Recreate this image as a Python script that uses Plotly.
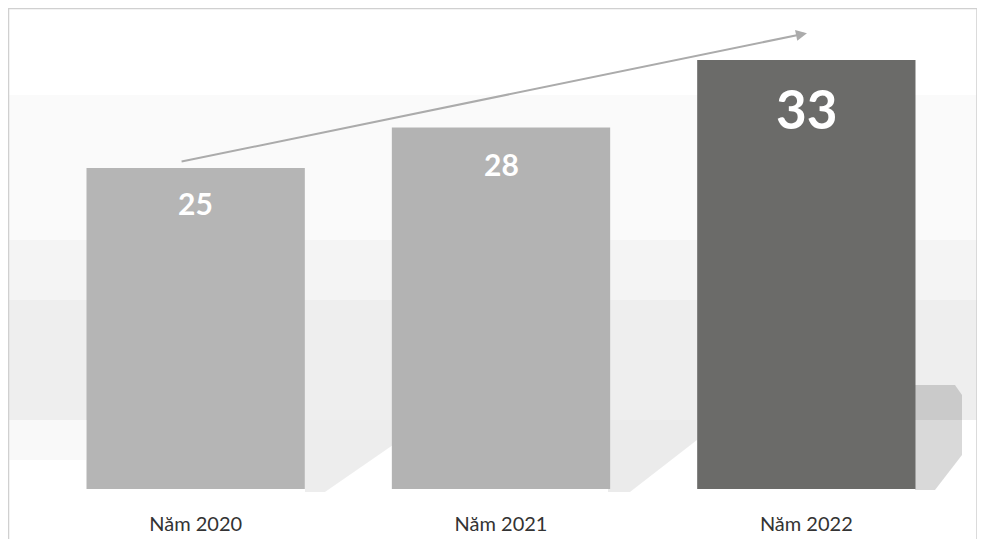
import plotly.graph_objects as go

categories = ["Năm 2020", "Năm 2021", "Năm 2022"]
values = [25, 28, 33]
bar_colors = ["#b5b5b5", "#b3b3b3", "#6b6b69"]
label_sizes = [30, 30, 53]
label_shifts = [-35, -36, -48]

# page is rendered with an 8px body margin
OFF = 8
W, H = 985 - 2 * OFF, 547 - 2 * OFF
# desired plot area in page pixels
PL, PR, PT, PB = 43, 959, 21, 489
ML, MR, MT, MB = PL - OFF, OFF + W - PR, PT - OFF, OFF + H - PB
PW, PH = PR - PL, PB - PT
# the value axis of the original chart is cut a little above zero
Y_MIN, Y_MAX = 1.19, 35.9


def fx(x):
    return (x - PL) / PW


def fy(y):
    return (PB - y) / PH


fig = go.Figure()
fig.add_trace(go.Bar(
    x=categories, y=values,
    marker=dict(color=bar_colors, line=dict(width=0)),
    hoverinfo="x+y",
))

annotations = []
for c, v, s, sh in zip(categories, values, label_sizes, label_shifts):
    annotations.append(dict(
        x=c, y=v, xref="x", yref="y", text=f"<b>{v}</b>", showarrow=False,
        yanchor="middle", yshift=sh,
        font=dict(family="Lato, Open Sans, sans-serif", size=s, color="#ffffff"),
    ))

# trend arrow (from above first bar to above third bar)
annotations.append(dict(
    x=2.002, y=35.0, xref="x", yref="y",
    ax=-0.051, ay=25.45, axref="x", ayref="y",
    text="", showarrow=True, arrowhead=2, arrowsize=1.1, arrowwidth=2,
    arrowcolor="#ababab",
))


def prect(x0, y0, x1, y1, color):
    return dict(type="rect", xref="paper", yref="paper", layer="below",
                x0=fx(x0), x1=fx(x1), y0=fy(y1), y1=fy(y0),
                line=dict(width=0), fillcolor=color)


def ppath(points, color):
    d = "M " + " L ".join(f"{fx(x):.5f},{fy(y):.5f}" for x, y in points) + " Z"
    return dict(type="path", xref="paper", yref="paper", layer="below", path=d,
                line=dict(width=0), fillcolor=color)


shapes = [
    prect(8, 95, 977, 240, "rgba(0,0,0,0.018)"),
    prect(8, 240, 977, 300, "rgba(0,0,0,0.045)"),
    prect(8, 300, 977, 420, "rgba(0,0,0,0.065)"),
    prect(8, 420, 86, 460, "rgba(0,0,0,0.025)"),
    ppath([(305, 420), (393, 420), (393, 445), (325, 492), (305, 492)], "rgba(0,0,0,0.07)"),
    ppath([(608, 420), (697, 420), (697, 440), (630, 492), (608, 492)], "rgba(0,0,0,0.08)"),
    ppath([(915, 385), (955, 385), (962, 395), (962, 455), (935, 490), (915, 490)], "rgba(0,0,0,0.15)"),
    # outer frame
    dict(type="rect", xref="paper", yref="paper", layer="below",
         x0=fx(OFF + 0.5), x1=fx(977), y0=fy(543), y1=fy(OFF + 0.5),
         line=dict(color="#d0d0d0", width=1.5)),
]

fig.update_layout(
    width=W, height=H,
    margin=dict(l=ML, r=MR, t=MT, b=MB, autoexpand=False),
    paper_bgcolor="#ffffff", plot_bgcolor="#ffffff",
    bargap=0.285,
    showlegend=False,
    shapes=shapes,
    annotations=annotations,
    xaxis=dict(showgrid=False, zeroline=False, showline=False, ticks="",
               automargin=False, ticklabelstandoff=21,
               tickfont=dict(family="Lato, Open Sans, sans-serif", size=20, color="#333333")),
    yaxis=dict(range=[Y_MIN, Y_MAX], showgrid=False, zeroline=False, showline=False,
               automargin=False, showticklabels=False, ticks="", fixedrange=True),
)

fig.write_html("out.html")
